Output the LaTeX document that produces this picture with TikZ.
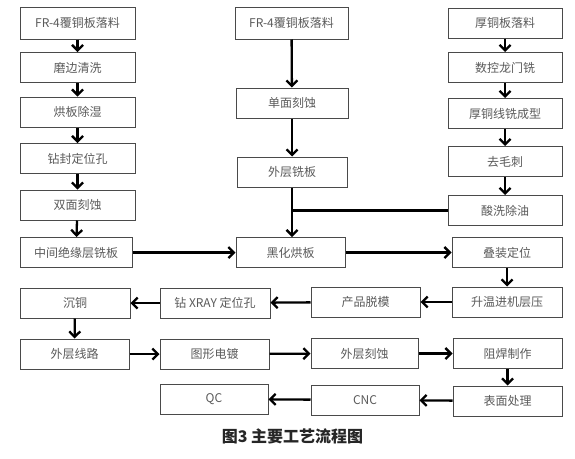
\documentclass[tikz,border=0pt]{standalone}
\usepackage{fontspec}
\setmainfont{Noto Sans CJK SC}
\usetikzlibrary{arrows.meta}
\definecolor{boxline}{HTML}{4A4A4A}
\definecolor{boxtext}{HTML}{5A5A5A}
\begin{document}
\begin{tikzpicture}[x=1pt,y=-1pt,
    box/.style={draw=boxline, line width=1pt, minimum height=30pt, minimum width=110pt,
      inner sep=0pt, text=boxtext, font=\fontsize{12}{14}\selectfont},
    flow/.style={line width=2.3pt, -{Straight Barb[length=5.5pt,width=11pt]}}]
    \useasboundingbox (0,0) rectangle (575,458);

    % left column
    \node[box, minimum width=115pt, minimum height=32pt] (a1) at (77.5,23) {FR-4覆铜板落料};
    \node[box, minimum width=115pt] (a2) at (77.5,67.5) {磨边清洗};
    \node[box, minimum width=115pt] (a3) at (77.5,112) {烘板除湿};
    \node[box, minimum width=115pt] (a4) at (77.5,158.5) {钻封定位孔};
    \node[box, minimum width=115pt] (a5) at (77.5,205) {双面刻蚀};
    \node[box, minimum width=112pt] (a6) at (76,252.5) {中间绝缘层铣板};

    % middle column
    \node[box, minimum width=113pt, minimum height=32pt] (m1) at (291.5,23) {FR-4覆铜板落料};
    \node[box, minimum width=112pt] (m2) at (292,103) {单面刻蚀};
    \node[box, minimum width=110pt] (m3) at (292,172) {外层铣板};
    \node[box, minimum width=109pt] (m4) at (290.5,252.5) {黑化烘板};

    % right column
    \node[box, minimum width=114pt] (r1) at (505,23) {厚铜板落料};
    \node[box, minimum width=114pt] (r2) at (505,67.5) {数控龙门铣};
    \node[box, minimum width=114pt] (r3) at (505,113.5) {厚铜线铣成型};
    \node[box, minimum width=114pt] (r4) at (505,161.5) {去毛刺};
    \node[box, minimum width=114pt] (r5) at (505,210.5) {酸洗除油};
    \node[box] (r6) at (507,252.5) {叠装定位};

    % lower rows
    \node[box] (c1) at (507,302) {升温进机层压};
    \node[box, minimum width=109pt] (c2) at (365.5,302) {产品脱模};
    \node[box] (c3) at (215,303) {钻 XRAY 定位孔};
    \node[box] (c4) at (75,303) {沉铜};

    \node[box, minimum width=109pt] (d1) at (74.5,354) {外层线路};
    \node[box, minimum width=109pt] (d2) at (214.5,354) {图形电镀};
    \node[box, minimum width=107pt] (d3) at (364.5,353.5) {外层刻蚀};
    \node[box, minimum width=109pt] (d4) at (507.5,353.5) {阻焊制作};

    \node[box, minimum width=109pt] (e1) at (507.5,401) {表面处理};
    \node[box, minimum width=108pt] (e2) at (365,400) {CNC};
    \node[box, minimum width=108pt] (e3) at (214,399) {QC};

    \coordinate (jn) at (m3.south |- r5.west);

     \draw[flow] (a1) -- (a2);
     \draw[flow] (a2) -- (a3);
     \draw[flow] (a3) -- (a4);
     \draw[flow] (a4) -- (a5);
     \draw[flow] (a5) -- (a6);
     \draw[flow] (a6) -- (m4);

     \draw[flow] (m1) -- (m2);
     \draw[flow] (m2) -- (m3);
     \draw[flow] (m3.south) -- (m3.south |- m4.north);
     \draw[line width=2.3pt] (r5.west) -- (jn);

     \draw[flow] (r1) -- (r2);
     \draw[flow] (r2) -- (r3);
     \draw[flow] (r3) -- (r4);
     \draw[flow] (r4) -- (r5);

     \draw[flow] (m4) -- (r6);
     \draw[flow] (r6) -- (c1);
     \draw[flow] (c1) -- (c2);
     \draw[flow] (c2) -- (c3);
     \draw[flow] (c3) -- (c4);
     \draw[flow] (c4) -- (d1);

     \draw[flow] (d1) -- (d2);
     \draw[flow] (d2) -- (d3);
     \draw[flow] (d3) -- (d4);
     \draw[flow] (d4) -- (e1);
     \draw[flow] (e1) -- (e2);
     \draw[flow] (e2) -- (e3);

     \node[text=black!85] (cap) at (292.5,436) {\fontsize{16}{18}\selectfont\bfseries 图3 主要工艺流程图};
  \end{tikzpicture}
\end{document}
